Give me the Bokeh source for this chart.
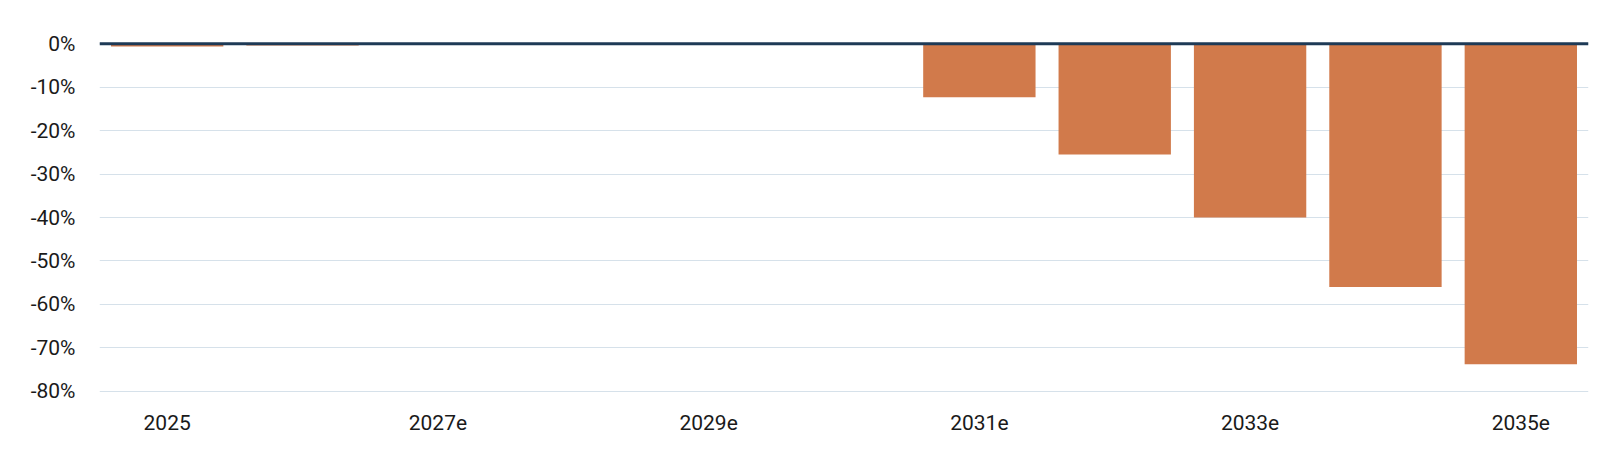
from bokeh.plotting import figure
from bokeh.models import Range1d, FixedTicker, Span, CustomJSTickFormatter
from bokeh.embed import file_html
from bokeh.resources import INLINE

# Data
categories = ["2025", "2026e", "2027e", "2028e", "2029e", "2030e",
              "2031e", "2032e", "2033e", "2034e", "2035e"]
values = [-0.6, -0.4, 0.0, 0.0, 0.0, 0.0, -12.3, -25.5, -40.0, -56.0, -73.8]
y_ticks = [0, -10, -20, -30, -40, -50, -60, -70, -80]
x_label_every = 2

BAR = "#D17A4B"
NAVY = "#1E3A56"
GRID = "#D6E1EA"
TXT = "#1A1A1A"
FONT = "Roboto"

xs = list(range(len(categories)))

p = figure(width=1597, height=442, output_backend="svg", toolbar_location=None,
           x_range=Range1d(-0.5, len(categories) - 0.5), y_range=Range1d(-81, 1),
           min_border_left=99, min_border_right=9, min_border_top=39, min_border_bottom=47)
p.outline_line_color = None
p.background_fill_color = "white"
p.border_fill_color = "white"

p.vbar(x=xs, top=values, bottom=0, width=0.83, fill_color=BAR, line_color=None)

p.add_layout(Span(location=0, dimension="width", line_color=NAVY, line_width=3))

# Y axis
p.yaxis.ticker = FixedTicker(ticks=y_ticks)
p.yaxis.formatter = CustomJSTickFormatter(code="return tick.toFixed(0) + '%';")
p.yaxis.axis_line_color = None
p.yaxis.major_tick_line_color = None
p.yaxis.minor_tick_line_color = None
p.yaxis.major_tick_out = 0
p.yaxis.major_label_standoff = 24
p.yaxis.major_label_text_font = FONT
p.yaxis.major_label_text_font_size = "21px"
p.yaxis.major_label_text_color = TXT

# X axis
tick_idx = [i for i in xs if i % x_label_every == 0]
p.xaxis.ticker = FixedTicker(ticks=tick_idx)
p.xaxis.major_label_overrides = {i: categories[i] for i in tick_idx}
p.xaxis.axis_line_color = None
p.xaxis.major_tick_line_color = None
p.xaxis.minor_tick_line_color = None
p.xaxis.major_tick_out = 0
p.xaxis.major_label_standoff = 19
p.xaxis.major_label_text_font = FONT
p.xaxis.major_label_text_font_size = "21px"
p.xaxis.major_label_text_color = TXT

p.xgrid.grid_line_color = None
p.ygrid.grid_line_color = GRID
p.ygrid.grid_line_width = 1

open("out.html", "w").write(file_html(p, INLINE))
